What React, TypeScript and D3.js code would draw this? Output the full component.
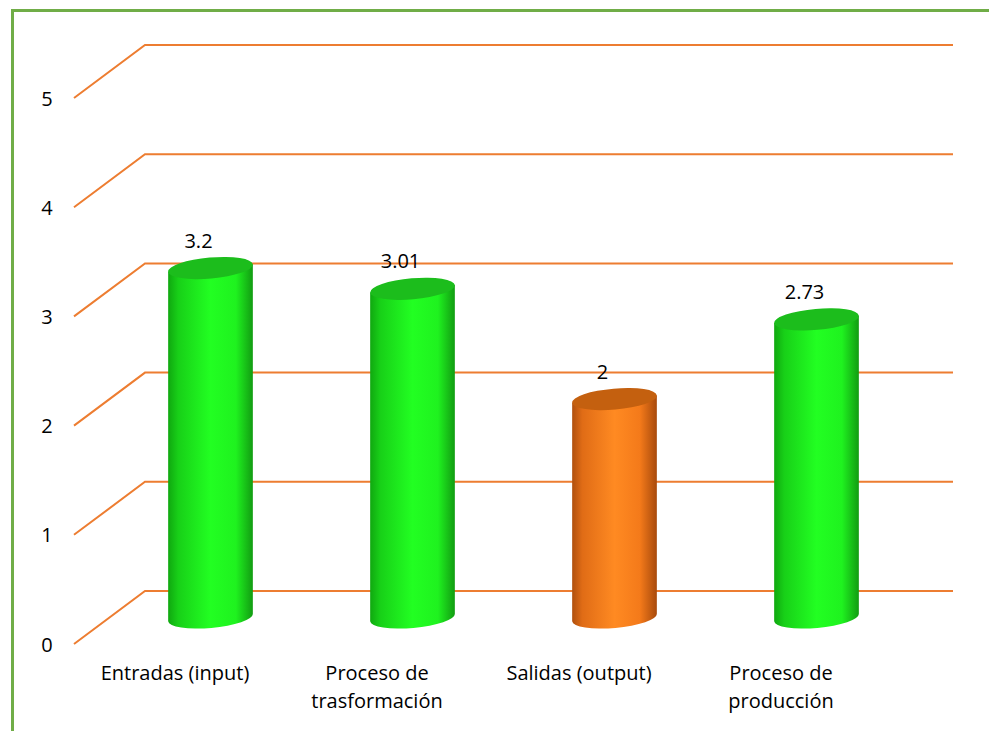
import React from "react";
import * as d3 from "d3";

const categories: string[][] = [
  ["Entradas (input)"],
  ["Proceso de", "trasformación"],
  ["Salidas (output)"],
  ["Proceso de", "producción"],
];
const values: number[] = [3.2, 3.01, 2, 2.73];
const valueLabels: string[] = ["3.2", "3.01", "2", "2.73"];
const colorKeys: string[] = ["green", "green", "orange", "green"];
const yTicks: number[] = [0, 1, 2, 3, 4, 5];

const W = 989;
const H = 731;
const FONT = "'Open Sans', Lato, sans-serif";
const FS = 20;

const palettes: Record<string, { stops: [number, string][]; top: string }> = {
  green: {
    stops: [
      [0, "#10a810"],
      [0.12, "#18d018"],
      [0.5, "#22ff22"],
      [0.8, "#1ff21f"],
      [1, "#129c12"],
    ],
    top: "#1cbd1c",
  },
  orange: {
    stops: [
      [0, "#b0500e"],
      [0.12, "#e06c16"],
      [0.5, "#ff8a22"],
      [0.8, "#f47a1a"],
      [1, "#a84a0c"],
    ],
    top: "#c4600f",
  },
};

export default function App() {
  const backLeft = 145;
  const backRight = 953;
  const dx = -71;
  const dy = 53;
  const yBack = d3.scaleLinear().domain([0, 5]).range([591, 45]);
  const yFront = (v: number) => yBack(v) + dy;
  const yMid = (v: number) => yBack(v) + dy / 2;

  const xMid = d3
    .scaleBand<number>()
    .domain(values.map((_, i) => i))
    .range([backLeft + dx / 2, backRight + dx / 2])
    .padding(0);
  const xFront = d3
    .scaleBand<number>()
    .domain(values.map((_, i) => i))
    .range([backLeft + dx, backRight + dx])
    .padding(0);

  const rx = 42.5;
  const ry = 10.5;
  const theta = -5;
  const tr = (theta * Math.PI) / 180;
  const ox = rx * Math.cos(tr);
  const oy = rx * Math.sin(tr);

  return (
    <svg
      width={W}
      height={H}
      style={{ position: "absolute", left: 0, top: 0, background: "#fff" }}
    >
      <defs>
        {Object.entries(palettes).map(([k, p]) => (
          <linearGradient key={k} id={`grad-${k}`} x1="0" x2="1" y1="0" y2="0">
            {p.stops.map(([o, c], i) => (
              <stop key={i} offset={o} stopColor={c} />
            ))}
          </linearGradient>
        ))}
      </defs>

      <line x1={12.5} x2={12.5} y1={9} y2={H} stroke="#70AD47" strokeWidth={3} />
      <line x1={11} x2={W} y1={10.5} y2={10.5} stroke="#70AD47" strokeWidth={3} />

      {yTicks.map((t) => (
        <g key={t}>
          <polyline
            points={`${backLeft + dx},${yFront(t)} ${backLeft},${yBack(t)} ${backRight},${yBack(t)}`}
            fill="none"
            stroke="#ED7D31"
            strokeWidth={2}
          />
          <text
            x={47}
            y={yFront(t)}
            textAnchor="middle"
            dominantBaseline="central"
            fontFamily={FONT}
            fontSize={FS}
            fill="#000"
          >
            {t}
          </text>
        </g>
      ))}

      {values.map((v, i) => {
        const cx = (xMid(i) as number) + xMid.bandwidth() / 2;
        const cyT = yMid(v);
        const cyB = yMid(0);
        const p = palettes[colorKeys[i]];
        const body = `M${cx - ox},${cyT - oy} L${cx - ox},${cyB - oy} A${rx},${ry} ${theta} 0 0 ${cx + ox},${cyB + oy} L${cx + ox},${cyT + oy} Z`;
        return (
          <g key={i}>
            <path d={body} fill={`url(#grad-${colorKeys[i]})`} />
            <ellipse
              cx={0}
              cy={0}
              rx={rx}
              ry={ry}
              transform={`translate(${cx},${cyT}) rotate(${theta})`}
              fill={p.top}
            />
            <text
              x={cx - 12}
              y={cyT - 28}
              textAnchor="middle"
              dominantBaseline="central"
              fontFamily={FONT}
              fontSize={FS}
              fill="#000"
            >
              {valueLabels[i]}
            </text>
          </g>
        );
      })}

      {categories.map((lines, i) => {
        const cx = (xFront(i) as number) + xFront.bandwidth() / 2;
        return (
          <text
            key={i}
            x={cx}
            y={672}
            textAnchor="middle"
            dominantBaseline="central"
            fontFamily={FONT}
            fontSize={FS}
            fill="#000"
          >
            {lines.map((l, j) => (
              <tspan key={j} x={cx} dy={j === 0 ? 0 : 28}>
                {l}
              </tspan>
            ))}
          </text>
        );
      })}
    </svg>
  );
}
